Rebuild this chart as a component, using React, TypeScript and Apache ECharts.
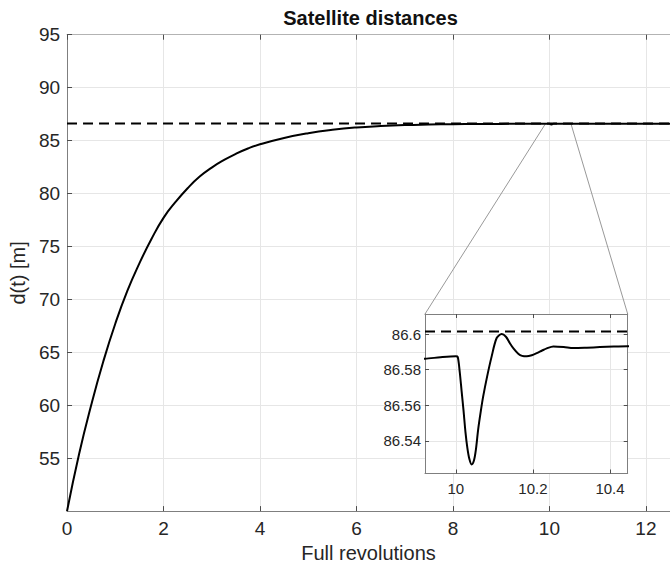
import React, { useEffect, useRef } from "react";
import * as echarts from "echarts";

// Distance between the satellites over the manoeuvre (revolutions -> metres)
const revolutions: number[] = [
  0, 0.25, 0.5, 0.75, 1.0, 1.25, 1.5, 1.75, 2.0, 2.25, 2.5, 2.75, 3.0, 3.25,
  3.5, 3.75, 4.0, 4.5, 5.0, 5.5, 6.0, 6.5, 7.0, 7.5, 8.0, 8.5, 9.0, 9.5, 9.92,
  9.96, 10.0, 10.005, 10.01, 10.015, 10.02, 10.025, 10.03, 10.035, 10.041,
  10.047, 10.052, 10.058, 10.065, 10.071, 10.081, 10.093, 10.106, 10.119, 10.13,
  10.14, 10.15, 10.162, 10.172, 10.184, 10.197, 10.21, 10.224, 10.236, 10.253,
  10.28, 10.305, 10.34, 10.374, 10.41, 10.446, 11.0, 12.5,
];
const distance: number[] = [
  50, 55.4, 60, 64.1, 67.7, 70.8, 73.4, 75.7, 77.7, 79.2, 80.5, 81.6, 82.45,
  83.15, 83.75, 84.25, 84.65, 85.25, 85.7, 86.02, 86.24, 86.37, 86.46, 86.51,
  86.545, 86.565, 86.576, 86.583, 86.5862,
  86.587, 86.5875, 86.5872, 86.579, 86.568, 86.557, 86.545, 86.536, 86.53,
  86.5268, 86.529, 86.535, 86.5465, 86.557, 86.565, 86.576, 86.5875, 86.5978,
  86.6, 86.5985, 86.595, 86.5918, 86.589, 86.5878, 86.5875, 86.5881, 86.5893,
  86.5908, 86.592, 86.5931, 86.5928, 86.5922, 86.5924, 86.5927, 86.593, 86.5932,
  86.5945, 86.597,
];

// Desired (reference) distance
const targetDistance = 86.6015;

// Main axes ranges and ticks
const mainXRange: [number, number] = [0, 12.5];
const mainYRange: [number, number] = [50, 95];
const mainXStep = 2;
const mainYStep = 5;

// Zoomed window
const insetXRange: [number, number] = [9.92, 10.446];
const insetYRange: [number, number] = [86.5217, 86.6113];
const insetXTicks: number[] = [10, 10.2, 10.4];
const insetYTicks: number[] = [86.54, 86.56, 86.58, 86.6];

const FONT = '"Liberation Sans", Arial, Helvetica, sans-serif';
const AXIS_COLOR = "#7f7f7f";
const TICK_COLOR = "#4d4d4d";
const GRID_COLOR = "#e6e6e6";
const LABEL_COLOR = "#262626";

const MAIN = { left: 66.7, top: 34.7, width: 607.6, height: 478.6 };
const INSET = { left: 425, top: 314, width: 202.7, height: 159.5 };

export default function App() {
  const ref = useRef<HTMLDivElement>(null);

  useEffect(() => {
    if (!ref.current) return;
    const chart = echarts.init(ref.current, undefined, { renderer: "svg" });
    const points = revolutions.map((x, i) => [x, distance[i]]);

    const tickStyle = { inside: true, length: 5, lineStyle: { color: TICK_COLOR, width: 1 } };
    const lineStyle = { show: true, onZero: false, lineStyle: { color: AXIS_COLOR, width: 1 } };

    chart.setOption({
      animation: false,
      backgroundColor: "#ffffff",
      grid: [
        { ...MAIN, containLabel: false, show: false, z: 0 },
        {
          ...INSET,
          containLabel: false,
          show: true,
          backgroundColor: "#ffffff",
          borderWidth: 0,
          z: 1,
        },
      ],
      xAxis: [
        {
          type: "value",
          gridIndex: 0,
          position: "bottom",
          min: mainXRange[0],
          max: mainXRange[1],
          interval: mainXStep,
          z: 0,
          axisLine: lineStyle,
          axisTick: tickStyle,
          axisLabel: {
            fontSize: 19,
            color: LABEL_COLOR,
            fontFamily: FONT,
            margin: 8,
            showMaxLabel: false,
          },
          splitLine: { show: true, lineStyle: { color: GRID_COLOR, width: 1 } },
          name: "Full revolutions",
          nameLocation: "middle",
          nameGap: 30,
          nameTextStyle: { fontSize: 20, color: LABEL_COLOR, fontFamily: FONT },
        },
        {
          type: "value",
          gridIndex: 0,
          position: "top",
          min: mainXRange[0],
          max: mainXRange[1],
          interval: mainXStep,
          z: 0,
          axisLine: { show: true, onZero: false, lineStyle: { color: "#b3b3b3", width: 1 } },
          axisTick: tickStyle,
          axisLabel: { show: false },
          splitLine: { show: false },
        },
        {
          type: "value",
          gridIndex: 1,
          position: "bottom",
          min: insetXRange[0],
          max: insetXRange[1],
          z: 2,
          axisLine: lineStyle,
          axisTick: { ...tickStyle, length: 4, customValues: insetXTicks },
          axisLabel: {
            customValues: insetXTicks,
            fontSize: 15,
            color: LABEL_COLOR,
            fontFamily: FONT,
            margin: 7,
            formatter: (v: number) => `${+v.toFixed(2)}`,
          },
          splitLine: { show: true, lineStyle: { color: GRID_COLOR, width: 1 } },
        },
        {
          type: "value",
          gridIndex: 1,
          position: "top",
          min: insetXRange[0],
          max: insetXRange[1],
          z: 2,
          axisLine: lineStyle,
          axisTick: { ...tickStyle, length: 4, customValues: insetXTicks },
          axisLabel: { show: false },
          splitLine: { show: false },
        },
      ],
      yAxis: [
        {
          type: "value",
          gridIndex: 0,
          position: "left",
          min: mainYRange[0],
          max: mainYRange[1],
          interval: mainYStep,
          z: 0,
          axisLine: lineStyle,
          axisTick: tickStyle,
          axisLabel: {
            fontSize: 19,
            color: LABEL_COLOR,
            fontFamily: FONT,
            margin: 7,
            showMinLabel: false,
          },
          splitLine: { show: true, lineStyle: { color: GRID_COLOR, width: 1 } },
          name: "d(t) [m]",
          nameLocation: "middle",
          nameGap: 34,
          nameTextStyle: { fontSize: 20, color: LABEL_COLOR, fontFamily: FONT },
        },
        {
          type: "value",
          gridIndex: 1,
          position: "left",
          min: insetYRange[0],
          max: insetYRange[1],
          z: 2,
          axisLine: lineStyle,
          axisTick: { ...tickStyle, length: 4, customValues: insetYTicks },
          axisLabel: {
            customValues: insetYTicks,
            fontSize: 15,
            color: LABEL_COLOR,
            fontFamily: FONT,
            margin: 4,
            formatter: (v: number) => `${+v.toFixed(2)}`,
          },
          splitLine: { show: true, lineStyle: { color: GRID_COLOR, width: 1 } },
        },
        {
          type: "value",
          gridIndex: 1,
          position: "right",
          min: insetYRange[0],
          max: insetYRange[1],
          z: 2,
          axisLine: lineStyle,
          axisTick: { ...tickStyle, length: 4, customValues: insetYTicks },
          axisLabel: { show: false },
          splitLine: { show: false },
        },
      ],
      series: [
        {
          type: "line",
          name: "reference",
          xAxisIndex: 0,
          yAxisIndex: 0,
          data: [
            [mainXRange[0], targetDistance],
            [mainXRange[1], targetDistance],
          ],
          showSymbol: false,
          lineStyle: { color: "#000", width: 2, type: [10, 6] },
          z: 2,
        },
        {
          type: "line",
          name: "distance",
          xAxisIndex: 0,
          yAxisIndex: 0,
          data: points,
          showSymbol: false,
          smooth: 0.5,
          lineStyle: { color: "#000", width: 2 },
          z: 3,
        },
        {
          type: "line",
          name: "reference zoom",
          xAxisIndex: 2,
          yAxisIndex: 1,
          data: [
            [insetXRange[0], targetDistance],
            [insetXRange[1], targetDistance],
          ],
          showSymbol: false,
          lineStyle: { color: "#000", width: 2, type: [10, 6] },
          z: 4,
        },
        {
          type: "line",
          name: "distance zoom",
          xAxisIndex: 2,
          yAxisIndex: 1,
          data: points,
          showSymbol: false,
          smooth: 0.3,
          clip: true,
          lineStyle: { color: "#000", width: 2 },
          z: 5,
        },
      ],
    });

    // Connector lines from the zoomed window on the main curve to the inset box
    const a = chart.convertToPixel({ xAxisIndex: 0, yAxisIndex: 0 }, [insetXRange[0], targetDistance]) as number[];
    const b = chart.convertToPixel({ xAxisIndex: 0, yAxisIndex: 0 }, [insetXRange[1], targetDistance]) as number[];
    const c = chart.convertToPixel({ xAxisIndex: 2, yAxisIndex: 1 }, [insetXRange[0], insetYRange[1]]) as number[];
    const d = chart.convertToPixel({ xAxisIndex: 2, yAxisIndex: 1 }, [insetXRange[1], insetYRange[1]]) as number[];

    chart.setOption({
      graphic: [
        {
          type: "line",
          z: 1,
          shape: { x1: a[0], y1: a[1], x2: c[0], y2: c[1] },
          style: { stroke: "#999999", lineWidth: 1 },
        },
        {
          type: "line",
          z: 1,
          shape: { x1: b[0], y1: b[1], x2: d[0], y2: d[1] },
          style: { stroke: "#999999", lineWidth: 1 },
        },
        {
          type: "text",
          z: 10,
          x: MAIN.left + MAIN.width / 2,
          y: 18,
          style: {
            text: "Satellite distances",
            fontSize: 20,
            fontWeight: "bold",
            fontFamily: FONT,
            fill: "#111111",
            align: "center",
            verticalAlign: "middle",
          },
        },
      ],
    });

    return () => chart.dispose();
  }, []);

  return (
    <div
      ref={ref}
      style={{ position: "absolute", left: 0, top: 0, width: 670, height: 568 }}
    />
  );
}
